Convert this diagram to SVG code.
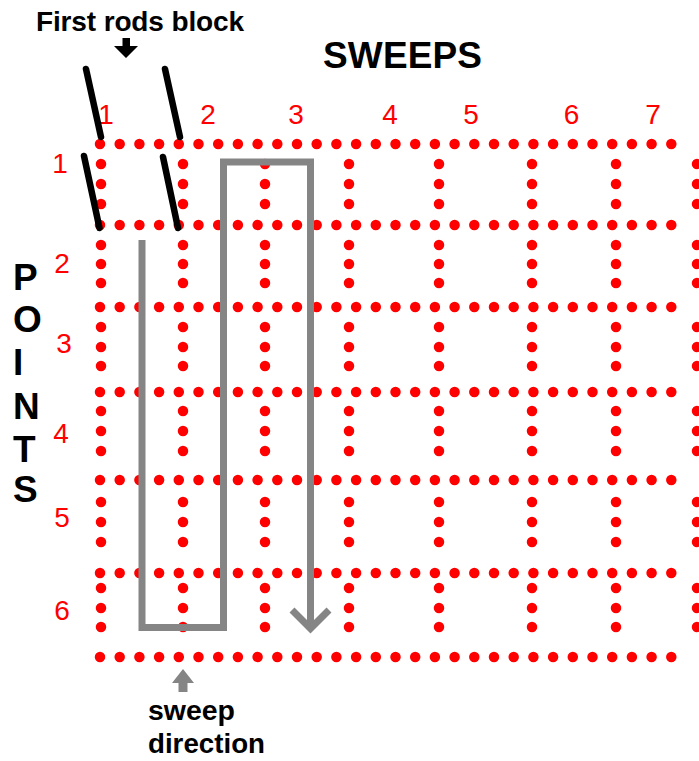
<svg xmlns="http://www.w3.org/2000/svg" xmlns:xlink="http://www.w3.org/1999/xlink" width="699" height="761" viewBox="0 0 699 761">
<style>
.row{stroke:#ff0000;stroke-width:10.5;stroke-linecap:round;stroke-dasharray:0 19.7;fill:none}
.col{stroke:#ff0000;stroke-width:10.5;stroke-linecap:round;fill:none}
.num{font-family:"Liberation Sans",Arial,sans-serif;font-size:28px;fill:#ff0000;text-anchor:middle}
.lbl{font-family:"Liberation Sans",Arial,sans-serif;font-weight:bold;fill:#000000}
.rod{stroke:#000000;stroke-width:6.5;stroke-linecap:round;fill:none}
.sweep{stroke:#858585;stroke-width:7;fill:none;stroke-linejoin:miter}
</style>
<defs>
<path id="vcol" d="M0,164h0M0,184h0M0,204h0M0,245h0M0,264h0M0,283h0M0,327h0M0,347h0M0,366h0M0,411h0M0,431h0M0,451h0M0,502h0M0,522h0M0,542h0M0,588h0M0,608h0M0,627h0"/>
</defs>
<rect width="699" height="761" fill="#ffffff"/>
<g id="grid">
<line class="row" x1="100" y1="144" x2="691" y2="144"/>
<line class="row" x1="100" y1="225" x2="691" y2="225"/>
<line class="row" x1="100" y1="307" x2="691" y2="307"/>
<line class="row" x1="100" y1="392" x2="691" y2="392"/>
<line class="row" x1="100" y1="480" x2="691" y2="480"/>
<line class="row" x1="100" y1="573" x2="691" y2="573"/>
<line class="row" x1="100" y1="657" x2="691" y2="657"/>
<use xlink:href="#vcol" href="#vcol" class="col" x="101"/>
<use xlink:href="#vcol" href="#vcol" class="col" x="183"/>
<use xlink:href="#vcol" href="#vcol" class="col" x="265"/>
<use xlink:href="#vcol" href="#vcol" class="col" x="349"/>
<use xlink:href="#vcol" href="#vcol" class="col" x="439"/>
<use xlink:href="#vcol" href="#vcol" class="col" x="532"/>
<use xlink:href="#vcol" href="#vcol" class="col" x="616"/>
<use xlink:href="#vcol" href="#vcol" class="col" x="697"/>
</g>
<g id="sweep-labels">
<text class="num" x="106" y="124">1</text>
<text class="num" x="208" y="124">2</text>
<text class="num" x="296" y="124">3</text>
<text class="num" x="390" y="124">4</text>
<text class="num" x="471" y="124">5</text>
<text class="num" x="571.5" y="124">6</text>
<text class="num" x="653" y="124">7</text>
</g>
<g id="point-labels">
<text class="num" x="60" y="173">1</text>
<text class="num" x="62" y="273">2</text>
<text class="num" x="64" y="353">3</text>
<text class="num" x="61" y="443">4</text>
<text class="num" x="62" y="527">5</text>
<text class="num" x="62" y="620">6</text>
</g>
<g id="title-first-rods">
<text class="lbl" x="36" y="31" font-size="28" textLength="208" lengthAdjust="spacing">First rods block</text>
<polygon points="122.5,38 130,38 130,46 138,46 126,58 114,46 122.5,46" fill="#000000"/>
</g>
<g id="rods">
<line class="rod" x1="86" y1="69" x2="101" y2="137"/>
<line class="rod" x1="84" y1="156" x2="99.5" y2="228"/>
<line class="rod" x1="165" y1="69" x2="180" y2="137"/>
<line class="rod" x1="163" y1="157" x2="178" y2="228"/>
</g>
<g id="title-sweeps">
<text class="lbl" x="323" y="68" font-size="37" textLength="159" lengthAdjust="spacing">SWEEPS</text>
</g>
<g id="title-points" class="lbl" font-size="37">
<text x="13" y="290">P</text>
<text x="13" y="332">O</text>
<text x="13" y="375">I</text>
<text x="13" y="419">N</text>
<text x="13" y="462">T</text>
<text x="13" y="502">S</text>
</g>
<g id="connectors">
<path class="sweep" d="M142,240 V627.5 H223.5 V162 H310.5 V628"/>
<polyline class="sweep" points="292,610 310.5,628.5 329,610"/>
<polygon points="183,669 194,683 187.5,683 187.5,692 178.5,692 178.5,683 172,683" fill="#858585"/>
</g>
<g id="sweep-direction">
<text class="lbl" x="148" y="720" font-size="28" textLength="87" lengthAdjust="spacingAndGlyphs">sweep</text>
<text class="lbl" x="148" y="753" font-size="28" textLength="117" lengthAdjust="spacingAndGlyphs">direction</text>
</g>
</svg>
